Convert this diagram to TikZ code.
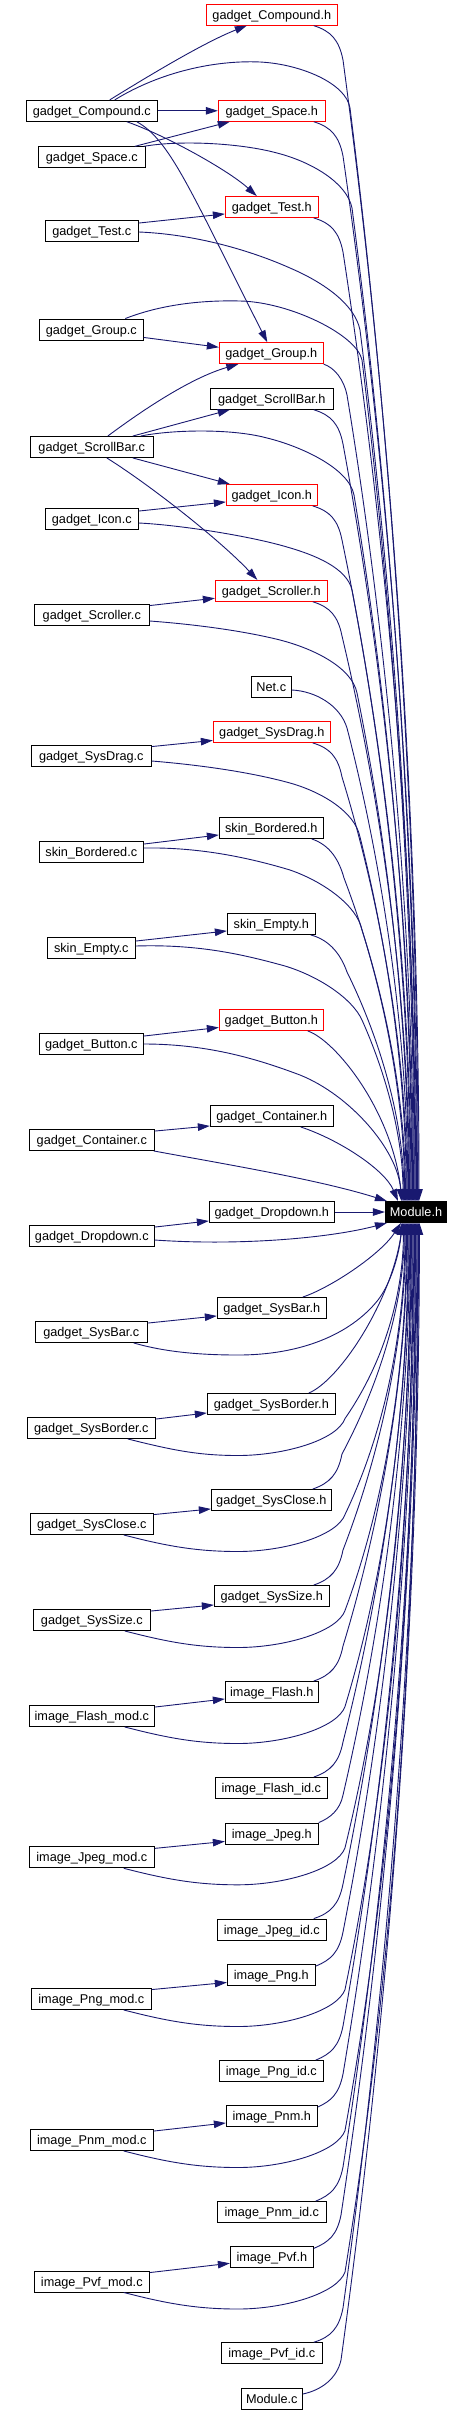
\documentclass[tikz,border=0pt]{standalone}
\usepackage{fontspec}
\setmainfont{Liberation Sans}
\usetikzlibrary{arrows.meta}
\definecolor{edgeblue}{RGB}{25,25,112}
\begin{document}
\begin{tikzpicture}[x=1bp,y=-1bp,
  box/.style={draw=black, line width=0.9bp, minimum height=21bp, inner sep=0pt,
    text height=9bp, text depth=0bp, font=\fontsize{12.7bp}{14bp}\selectfont, text=black, fill=white},
  redbox/.style={box, draw=red},
  modbox/.style={box, fill=black, text=white},
  edge/.style={draw=edgeblue, line width=0.9bp, -{Triangle[length=12bp,width=7.5bp]}}]
\useasboundingbox (0,0) rectangle (471,2412);

% nodes
\node[redbox, minimum width=131bp] (gch) at (271.8,14.7) {gadget\_Compound.h};
\node[box, minimum width=131bp] (gcc) at (91.8,110.8) {gadget\_Compound.c};
\node[redbox, minimum width=107bp] (gsh) at (271.8,110.8) {gadget\_Space.h};
\node[box, minimum width=107bp] (gsc) at (91.8,157.3) {gadget\_Space.c};
\node[redbox, minimum width=93bp] (gth) at (271.8,207) {gadget\_Test.h};
\node[box, minimum width=93bp] (gtc) at (91.8,231) {gadget\_Test.c};
\node[box, minimum width=104bp] (ggc) at (91.3,329.5) {gadget\_Group.c};
\node[redbox, minimum width=104bp] (ggh) at (271.3,353.2) {gadget\_Group.h};
\node[box, minimum width=123bp] (gsbh) at (271.8,398.8) {gadget\_ScrollBar.h};
\node[box, minimum width=123bp] (gsbc) at (91.8,447) {gadget\_ScrollBar.c};
\node[redbox, minimum width=91bp] (gih) at (271.8,495) {gadget\_Icon.h};
\node[box, minimum width=93bp] (gic) at (91.8,519) {gadget\_Icon.c};
\node[redbox, minimum width=112bp] (gsrh) at (271.3,590.8) {gadget\_Scroller.h};
\node[box, minimum width=115bp] (gsrc) at (91.8,615) {gadget\_Scroller.c};
\node[box, minimum width=40bp] (net) at (271.3,687) {Net.c};
\node[redbox, minimum width=117bp] (gsdh) at (271.8,732) {gadget\_SysDrag.h};
\node[box, minimum width=120bp] (gsdc) at (91.3,756) {gadget\_SysDrag.c};
\node[box, minimum width=104bp] (sbh) at (271.3,828) {skin\_Bordered.h};
\node[box, minimum width=104bp] (sbc) at (91.3,852) {skin\_Bordered.c};
\node[box, minimum width=88bp] (seh) at (271.3,924) {skin\_Empty.h};
\node[box, minimum width=88bp] (sec) at (91.3,948) {skin\_Empty.c};
\node[redbox, minimum width=104bp] (gbh) at (271.3,1020) {gadget\_Button.h};
\node[box, minimum width=104bp] (gbc) at (91.3,1044) {gadget\_Button.c};
\node[box, minimum width=123bp] (gch2) at (271.8,1116) {gadget\_Container.h};
\node[box, minimum width=125bp] (gcc2) at (91.8,1140) {gadget\_Container.c};
\node[box, minimum width=125bp] (gdh) at (271.8,1212) {gadget\_Dropdown.h};
\node[modbox, minimum width=61.3bp] (mod) at (416,1212) {Module.h};
\node[box, minimum width=125bp] (gdc) at (91.8,1236) {gadget\_Dropdown.c};
\node[box, minimum width=109bp] (gsbarh) at (271.8,1308) {gadget\_SysBar.h};
\node[box, minimum width=112bp] (gsbarc) at (91.3,1332) {gadget\_SysBar.c};
\node[box, minimum width=128bp] (gsboh) at (271.3,1404) {gadget\_SysBorder.h};
\node[box, minimum width=128bp] (gsboc) at (91.3,1428) {gadget\_SysBorder.c};
\node[box, minimum width=120bp] (gsch) at (271.3,1500) {gadget\_SysClose.h};
\node[box, minimum width=123bp] (gscc) at (91.8,1524) {gadget\_SysClose.c};
\node[box, minimum width=115bp] (gssh) at (271.8,1596) {gadget\_SysSize.h};
\node[box, minimum width=117bp] (gssc) at (91.8,1620) {gadget\_SysSize.c};
\node[box, minimum width=93bp] (ifh) at (271.8,1692) {image\_Flash.h};
\node[box, minimum width=125bp] (ifmc) at (91.8,1716) {image\_Flash\_mod.c};
\node[box, minimum width=112bp] (ific) at (271.3,1788) {image\_Flash\_id.c};
\node[box, minimum width=93bp] (ijh) at (271.8,1833.5) {image\_Jpeg.h};
\node[box, minimum width=125bp] (ijmc) at (91.8,1857.3) {image\_Jpeg\_mod.c};
\node[box, minimum width=109bp] (ijic) at (271.8,1929.5) {image\_Jpeg\_id.c};
\node[box, minimum width=88bp] (iph) at (271.3,1975) {image\_Png.h};
\node[box, minimum width=120bp] (ipmc) at (91.3,1999) {image\_Png\_mod.c};
\node[box, minimum width=104bp] (ipic) at (271.3,2071) {image\_Png\_id.c};
\node[box, minimum width=91bp] (inh) at (271.8,2116) {image\_Pnm.h};
\node[box, minimum width=123bp] (inmc) at (91.8,2140) {image\_Pnm\_mod.c};
\node[box, minimum width=109bp] (inic) at (271.8,2212) {image\_Pnm\_id.c};
\node[box, minimum width=83bp] (ivh) at (271.8,2257.3) {image\_Pvf.h};
\node[box, minimum width=115bp] (ivmc) at (91.8,2281.5) {image\_Pvf\_mod.c};
\node[box, minimum width=101bp] (ivic) at (271.8,2353.2) {image\_Pvf\_id.c};
\node[box, minimum width=61bp] (modc) at (271.8,2399) {Module.c};

% ---------- .c -> .h edges ----------
\draw[edge] (gcc.east) -- (gsh.west);
\draw[edge] ([xshift=18bp]gcc.north) .. controls (150,75) and (205,42) .. ([xshift=-25bp]gch.south);
\draw[edge] ([xshift=35bp]gcc.south) .. controls (165,135) and (228,170) .. ([xshift=-15bp]gth.north);
\draw[edge] ([xshift=45bp]gcc.south) .. controls (170,140) and (190,190) .. ([xshift=-4bp]ggh.north);
\draw[edge] ([xshift=43bp]gsc.north) -- ([xshift=-42bp]gsh.south);
\draw[edge] ([yshift=-3bp]gtc.north east) -- ([yshift=4bp]gth.south west);
\draw[edge] ([yshift=3bp]ggc.south east) -- ([yshift=-5bp]ggh.north west);
\draw[edge] ([xshift=16bp]gsbc.north) .. controls (140,412) and (190,378) .. ([xshift=-33bp]ggh.south);
\draw[edge] ([xshift=41bp]gsbc.north) -- ([xshift=-42bp]gsbh.south);
\draw[edge] ([xshift=41bp]gsbc.south) -- ([xshift=-42bp]gih.north);
\draw[edge] ([xshift=15bp]gsbc.south) .. controls (150,485) and (220,540) .. ([xshift=-14bp]gsrh.north);
\draw[edge] ([yshift=-3bp]gic.north east) -- ([yshift=4bp]gih.south west);
\draw[edge] ([yshift=-1.5bp]gsrc.north east) -- ([yshift=3.5bp]gsrh.south west);
\draw[edge] ([yshift=-1.5bp]gsdc.north east) -- ([yshift=2.5bp]gsdh.south west);
\draw[edge] ([yshift=-3bp]sbc.north east) -- ([yshift=4bp]sbh.south west);
\draw[edge] ([yshift=-4bp]sec.north east) -- ([yshift=4bp]seh.south west);
\draw[edge] ([yshift=-3bp]gbc.north east) -- ([yshift=3.5bp]gbh.south west);
\draw[edge] ([yshift=-2bp]gcc2.north east) -- ([yshift=1bp]gch2.south west);
\draw[edge] ([yshift=-2bp]gdc.north east) -- ([yshift=2bp]gdh.south west);
\draw[edge] (gdh.east) -- (mod.west);
\draw[edge] ([yshift=-2bp]gsbarc.north east) -- ([yshift=3bp]gsbarh.south west);
\draw[edge] ([yshift=-2bp]gsboc.north east) -- ([yshift=2bp]gsboh.south west);
\draw[edge] ([yshift=-1.5bp]gscc.north east) -- ([yshift=2bp]gsch.south west);
\draw[edge] ([yshift=-2bp]gssc.north east) -- ([yshift=2bp]gssh.south west);
\draw[edge] ([yshift=-2bp]ifmc.north east) -- ([yshift=4bp]ifh.south west);
\draw[edge] ([yshift=-2bp]ijmc.north east) -- ([yshift=3bp]ijh.south west);
\draw[edge] ([yshift=-1.5bp]ipmc.north east) -- ([yshift=3.5bp]iph.south west);
\draw[edge] ([yshift=-2bp]inmc.north east) -- ([yshift=4bp]inh.south west);
\draw[edge] ([yshift=-2bp]ivmc.north east) -- ([yshift=5bp]ivh.south west);

% ---------- headers above -> Module.h (top) ----------
\draw[edge] ([xshift=-24bp]gch.south east) .. controls (331,31) and (339,40) .. (343,60) .. controls (389,403) and (419,802) .. ([xshift=3bp]mod.north);
\draw[edge] ([xshift=-12bp]gsh.south east) .. controls (331,127) and (339,136) .. (343,156) .. controls (388,470) and (417.4,836) .. ([xshift=1.4bp]mod.north);
\draw[edge] ([xshift=-5bp]gth.south east) .. controls (331,223) and (339,232) .. (343,252) .. controls (386.7,537) and (415.8,869.5) .. ([xshift=-0.2bp]mod.north);
\draw[edge] (ggh.south east) .. controls (335,368) and (344,380) .. (347,395) .. controls (386.8,637) and (413.4,920) .. ([xshift=-2.6bp]mod.north);
\draw[edge] ([xshift=-20bp]gsbh.south east) .. controls (331,415) and (339,424) .. (343,444) .. controls (384.8,671) and (412.6,937) .. ([xshift=-3.4bp]mod.north);
\draw[edge] ([xshift=-5bp]gih.south east) .. controls (330,511) and (338,520) .. (342,540) .. controls (383.4,739) and (411,970) .. ([xshift=-5bp]mod.north);
\draw[edge] ([xshift=-15bp]gsrh.south east) .. controls (330,607) and (338,616) .. (342,636) .. controls (382.4,806) and (409.4,1004) .. ([xshift=-6.6bp]mod.north);
\draw[edge] ([yshift=-3bp]net.east) .. controls (315,691) and (340,705) .. (347,728) .. controls (383.5,870) and (407.8,1036) .. ([xshift=-8.2bp]mod.north);
\draw[edge] ([xshift=-18bp]gsdh.south east) .. controls (330,748) and (338,757) .. (342,777) .. controls (381,904.5) and (407,1053) .. ([xshift=-9bp]mod.north);
\draw[edge] ([xshift=-12bp]sbh.south east) .. controls (330,845) and (339,860) .. (344,878) .. controls (380.8,975) and (405.4,1089) .. ([xshift=-10.6bp]mod.north);
\draw[edge] ([xshift=-5bp]seh.south east) .. controls (330,940) and (341,955) .. (347,972) .. controls (381,1041) and (403.8,1122) .. ([xshift=-12.2bp]mod.north);
\draw[edge] ([xshift=-16bp]gbh.south east) .. controls (335,1040) and (392,1110) .. ([xshift=-13.8bp]mod.north);
\draw[edge] ([xshift=-33bp]gch2.south east) .. controls (340,1140) and (385,1170) .. ([xshift=-18bp]mod.north);

% ---------- sources above -> Module.h (arcs) ----------
\draw[edge] ([xshift=23bp]gcc.north) .. controls (160,72) and (215,60) .. (260,62) .. controls (300,64) and (346,83) .. (350,108) .. controls (391,436) and (418.2,819) .. ([xshift=2.2bp]mod.north);
\draw[edge] ([xshift=-2bp]gsc.north east) .. controls (180,140) and (240,143) .. (277,153) .. controls (312,162) and (347,183) .. (352,208) .. controls (390.8,506) and (416.6,854) .. ([xshift=0.6bp]mod.north);
\draw[edge] ([yshift=-1bp]gtc.east) .. controls (190,234) and (245,248) .. (290,268) .. controls (325,283) and (355,305) .. (360,330) .. controls (393,592) and (415,897) .. ([xshift=-1bp]mod.north);
\draw[edge] ([xshift=34bp]ggc.north) .. controls (160,305) and (200,300) .. (240,301) .. controls (290,302) and (357,335) .. (362,360) .. controls (393,613) and (414.2,907) .. ([xshift=-1.8bp]mod.north);
\draw[edge] ([xshift=-13bp]gsbc.north east) .. controls (170,430) and (230,428) .. (267,438) .. controls (300,446) and (349,468) .. (354,495) .. controls (389,707) and (411.8,955) .. ([xshift=-4.2bp]mod.north);
\draw[edge] ([yshift=-4bp]gic.east) .. controls (180,525) and (250,536) .. (287,547) .. controls (315,555) and (347,568) .. (352,590) .. controls (387,774) and (410.2,988) .. ([xshift=-5.8bp]mod.north);
\draw[edge] ([yshift=-6bp]gsrc.east) .. controls (190,624) and (240,630) .. (280,640) .. controls (315,649) and (352,668) .. (357,693) .. controls (388,846) and (408.6,1024) .. ([xshift=-7.4bp]mod.north);
\draw[edge] ([yshift=-5bp]gsdc.east) .. controls (200,765) and (250,772) .. (290,783) .. controls (322,792) and (355,812) .. (360,837) .. controls (387.5,947) and (406.2,1074) .. ([xshift=-9.8bp]mod.north);
\draw[edge] ([yshift=4bp]sbc.east) .. controls (200,847) and (250,858) .. (290,870) .. controls (322,881) and (357,905) .. (362,930) .. controls (387.6,1012) and (404.6,1107) .. ([xshift=-11.4bp]mod.north);
\draw[edge] ([yshift=2bp]sec.east) .. controls (200,944) and (245,955) .. (285,966) .. controls (318,976) and (352,998) .. (362,1020) .. controls (386.6,1075) and (403,1138) .. ([xshift=-13bp]mod.north);
\draw[edge] (gbc.east) .. controls (210,1044) and (260,1060) .. (300,1075) .. controls (350,1095) and (398,1150) .. ([xshift=-14.6bp]mod.north);
\draw[edge] ([xshift=-1bp]gcc2.south east) .. controls (230,1165) and (320,1180) .. ([xshift=2bp]mod.north west);
\draw[edge] ([yshift=-4bp]gdc.east) .. controls (240,1246) and (330,1238) .. ([xshift=2bp]mod.south west);

% ---------- headers below -> Module.h (bottom) ----------
\draw[edge] ([xshift=-24bp]gsbarh.north east) .. controls (330,1288) and (380,1255) .. ([xshift=-15bp]mod.south);
\draw[edge] ([xshift=-27bp]gsboh.north east) .. controls (340,1380) and (392,1300) .. ([xshift=-13.4bp]mod.south);
\draw[edge] ([xshift=-19bp]gsch.north east) .. controls (330,1483) and (338,1474) .. (342,1454) .. controls (379.3,1384) and (404.2,1303) .. ([xshift=-11.8bp]mod.south);
\draw[edge] ([xshift=-16bp]gssh.north east) .. controls (331,1579) and (339,1570) .. (343,1550) .. controls (380.7,1452) and (405.8,1337) .. ([xshift=-10.2bp]mod.south);
\draw[edge] ([xshift=-5bp]ifh.north east) .. controls (331,1675) and (339,1666) .. (343,1646) .. controls (381.6,1519) and (407.4,1370) .. ([xshift=-8.6bp]mod.south);
\draw[edge] ([xshift=-14bp]ific.north east) .. controls (331,1771) and (339,1762) .. (343,1742) .. controls (382.6,1586) and (409,1404) .. ([xshift=-7bp]mod.south);
\draw[edge] (ijh.north east) .. controls (330,1818) and (340,1810) .. (343,1795) .. controls (383,1623) and (409.8,1422) .. ([xshift=-6.2bp]mod.south);
\draw[edge] ([xshift=-13bp]ijic.north east) .. controls (331,1913) and (339,1904) .. (343,1884) .. controls (384,1685) and (411.4,1454) .. ([xshift=-4.6bp]mod.south);
\draw[edge] ([yshift=-2bp]iph.north east) .. controls (331,1960) and (339,1952) .. (343,1932) .. controls (384.5,1719) and (412.2,1470) .. ([xshift=-3.8bp]mod.south);
\draw[edge] ([xshift=-8bp]ipic.north east) .. controls (331,2054) and (339,2046) .. (343,2026) .. controls (385.5,1785) and (413.8,1503) .. ([xshift=-2.2bp]mod.south);
\draw[edge] ([yshift=-2bp]inh.north east) .. controls (331,2101) and (339,2094) .. (343,2074) .. controls (386,1818) and (414.6,1520) .. ([xshift=-1.4bp]mod.south);
\draw[edge] ([xshift=-11bp]inic.north east) .. controls (331,2195) and (339,2187) .. (343,2167) .. controls (387,1884) and (416.2,1553) .. ([xshift=0.2bp]mod.south);
\draw[edge] ([yshift=-2bp]ivh.north east) .. controls (329,2242) and (337,2235) .. (341,2215) .. controls (386,1917) and (417,1570) .. ([xshift=1bp]mod.south);
\draw[edge] ([xshift=-9bp]ivic.north east) .. controls (331,2337) and (339,2328) .. (343,2308) .. controls (388,1982) and (418.6,1602) .. ([xshift=2.6bp]mod.south);
\draw[edge] ([yshift=5bp]modc.east) .. controls (322,2390) and (337,2378) .. (341,2360) .. controls (388,2019) and (419.4,1620) .. ([xshift=3.4bp]mod.south);

% ---------- sources below -> Module.h (arcs) ----------
\draw[edge] ([xshift=-14bp]gsbarc.south east) .. controls (165,1352) and (200,1355) .. (238,1355) .. controls (300,1355) and (350,1335) .. (378,1300) .. controls (392,1282) and (400,1250) .. ([xshift=-14.2bp]mod.south);
\draw[edge] ([xshift=-28bp]gsboc.south east) .. controls (172,1450) and (198,1455.5) .. (238,1455.5) .. controls (283,1455.5) and (337,1440.5) .. (345,1418.5) .. controls (385.9,1359.6) and (403.4,1290.7) .. ([xshift=-12.6bp]mod.south);
\draw[edge] ([xshift=-30bp]gscc.south east) .. controls (168,1546.5) and (198,1551.5) .. (238,1551.5) .. controls (283,1551.5) and (337,1536.5) .. (345,1514.5) .. controls (387,1426.8) and (405,1324) .. ([xshift=-11bp]mod.south);
\draw[edge] ([xshift=-26bp]gssc.south east) .. controls (169.3,1642.5) and (198,1647.5) .. (238,1647.5) .. controls (283,1647.5) and (337,1632.5) .. (345,1610.5) .. controls (388.1,1493.9) and (406.6,1358) .. ([xshift=-9.4bp]mod.south);
\draw[edge] ([xshift=-30bp]ifmc.south east) .. controls (169.3,1738.5) and (198,1743.5) .. (238,1743.5) .. controls (283,1743.5) and (337,1728.5) .. (345,1706.5) .. controls (389.2,1561.1) and (408.2,1391.6) .. ([xshift=-7.8bp]mod.south);
\draw[edge] ([xshift=-31bp]ijmc.south east) .. controls (168.3,1879.8) and (198,1884.8) .. (238,1884.8) .. controls (283,1884.8) and (337,1869.8) .. (345,1847.8) .. controls (390.9,1660.1) and (410.6,1441) .. ([xshift=-5.4bp]mod.south);
\draw[edge] ([xshift=-28bp]ipmc.south east) .. controls (168.3,2021.5) and (198,2026.5) .. (238,2026.5) .. controls (283,2026.5) and (337,2011.5) .. (345,1989.5) .. controls (392.6,1759.5) and (413,1490.6) .. ([xshift=-3bp]mod.south);
\draw[edge] ([xshift=-30bp]inmc.south east) .. controls (168.3,2162.5) and (198,2167.5) .. (238,2167.5) .. controls (283,2167.5) and (337,2152.5) .. (345,2130.5) .. controls (394.3,1857.9) and (415.4,1540) .. ([xshift=-0.6bp]mod.south);
\draw[edge] ([xshift=-26bp]ivmc.south east) .. controls (168.3,2304) and (198,2309) .. (238,2309) .. controls (283,2309) and (337,2294) .. (345,2272) .. controls (396,1957) and (417.8,1589.5) .. ([xshift=1.8bp]mod.south);
\end{tikzpicture}
\end{document}
